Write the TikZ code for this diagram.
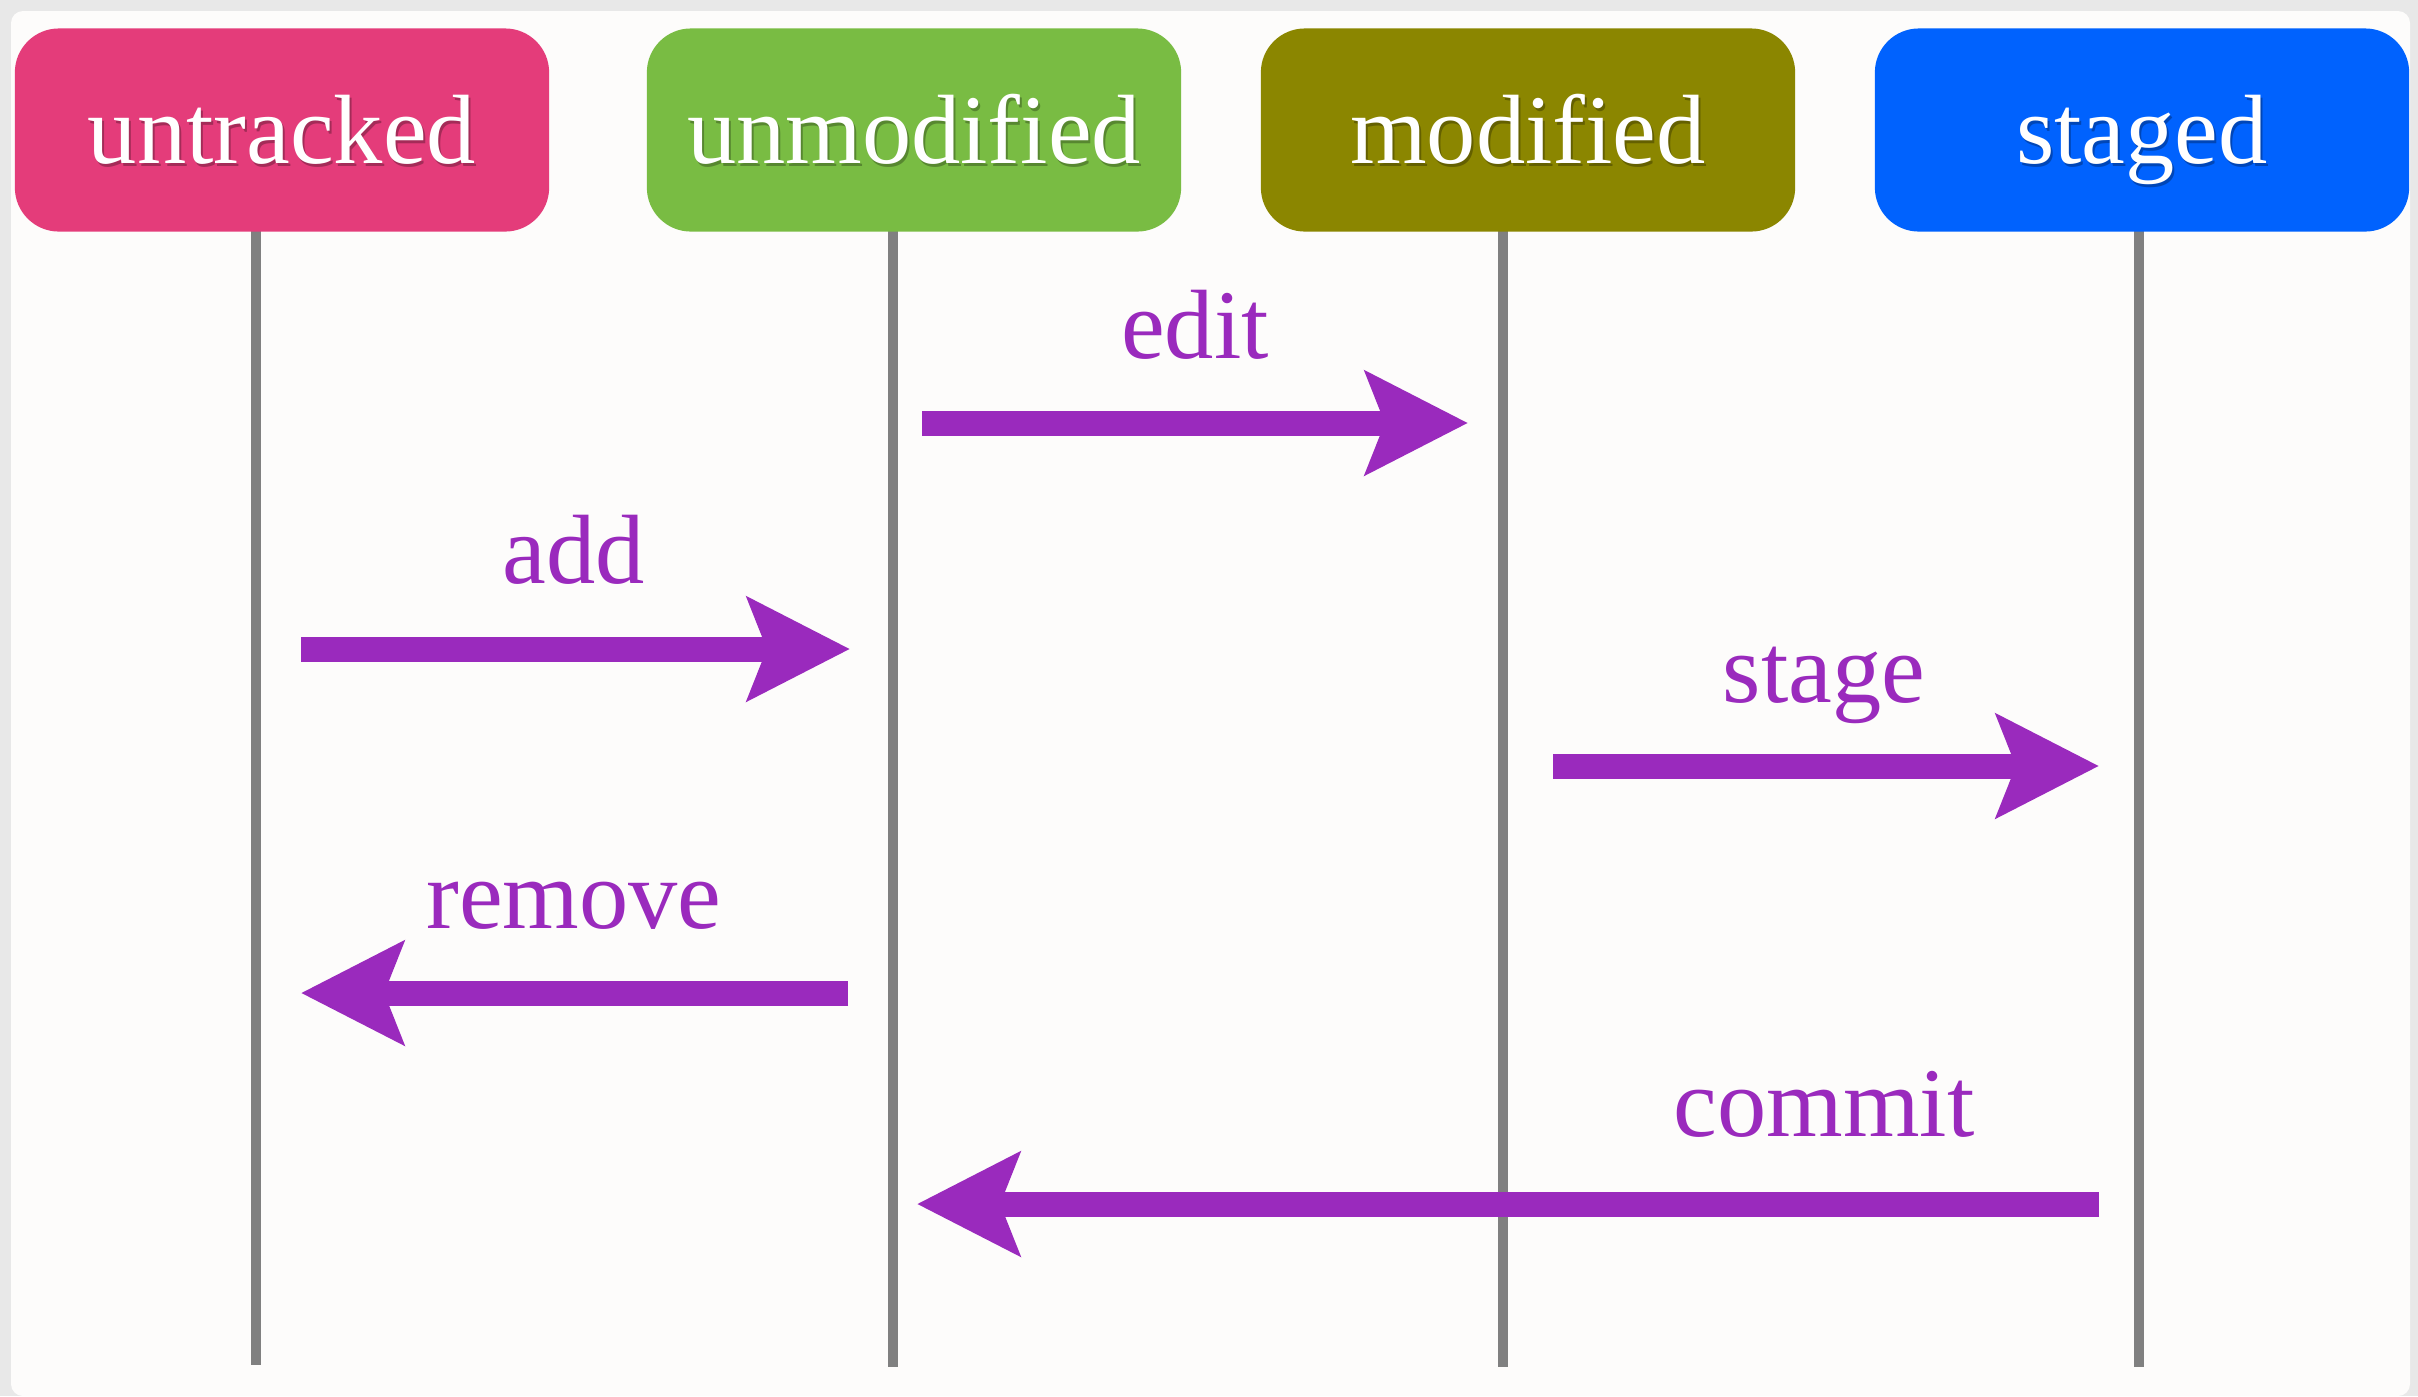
\documentclass[tikz,border=0pt]{standalone}
\usepackage{fontspec}
\setmainfont{Liberation Serif}
\usetikzlibrary{arrows.meta}
\definecolor{cUntr}{HTML}{E43C7A}
\definecolor{cUnmod}{HTML}{79BC43}
\definecolor{cMod}{HTML}{8B8600}
\definecolor{cStaged}{HTML}{0062FE}
\definecolor{cPurp}{HTML}{9A2ABD}
\definecolor{cLine}{HTML}{808080}
\definecolor{cPanel}{HTML}{FDFCFB}
\definecolor{cOuter}{HTML}{E8E8E8}
\tikzset{
  statebox/.style={rounded corners=0.44cm, minimum width=5.34cm, minimum height=2.03cm, inner sep=0pt},
  lbl/.style={font=\fontsize{28pt}{32pt}\selectfont, inner sep=0pt, anchor=base},
  boxtxt/.style={lbl, text=white},
  shadowtxt/.style={lbl, text=black, opacity=0.28},
  lifeline/.style={draw=cLine, line width=0.1cm},
  act/.style={draw=cPurp, line width=0.25cm, -{Stealth[length=1.02cm, width=1.02cm, inset=0.19cm]}},
  actlbl/.style={lbl, text=cPurp},
}
\begin{document}
\begin{tikzpicture}[x=0.01cm,y=-0.01cm]
\useasboundingbox (0,0) rectangle (2418,1396);
\fill[cOuter] (0,0) rectangle (2418,1396);
\fill[cPanel, rounded corners=0.12cm] (11,11) rectangle (2410,1396);

% lifeline coordinates
\coordinate (l1t) at (256,200);  \coordinate (l1b) at (256,1365);
\coordinate (l2t) at (893,200);  \coordinate (l2b) at (893,1367);
\coordinate (l3t) at (1503,200); \coordinate (l3b) at (1503,1367);
\coordinate (l4t) at (2139,200); \coordinate (l4b) at (2139,1367);
\draw[lifeline] (l1t) -- (l1b);
\draw[lifeline] (l2t) -- (l2b);
\draw[lifeline] (l3t) -- (l3b);
\draw[lifeline] (l4t) -- (l4b);

% state boxes
\node[statebox, fill=cUntr]   (untr)  at (282,130)  {};
\node[statebox, fill=cUnmod]  (unmod) at (914,130)  {};
\node[statebox, fill=cMod]    (mod)   at (1528,130) {};
\node[statebox, fill=cStaged] (stg)   at (2142,130) {};

\node[shadowtxt] (untrS)  at (284,166)  {untracked};
\node[boxtxt]    (untrT)  at (282,163)  {untracked};
\node[shadowtxt] (unmodS) at (916,166)  {unmodified};
\node[boxtxt]    (unmodT) at (914,163)  {unmodified};
\node[shadowtxt] (modS)   at (1530,166) {modified};
\node[boxtxt]    (modT)   at (1528,163) {modified};
\node[shadowtxt] (stgS)   at (2144,166) {staged};
\node[boxtxt]    (stgT)   at (2142,163) {staged};

% actions
\coordinate (editA) at (922,423);  \coordinate (editB) at (1468,423);
\coordinate (addA) at (301,649);   \coordinate (addB) at (850,649);
\coordinate (stageA) at (1553,766); \coordinate (stageB) at (2099,766);
\coordinate (remA) at (848,993);   \coordinate (remB) at (301,993);
\coordinate (comA) at (2099,1204); \coordinate (comB) at (917,1204);

\draw[act] (editA) -- (editB);
\draw[act] (addA) -- (addB);
\draw[act] (stageA) -- (stageB);
\draw[act] (remA) -- (remB);
\draw[act] (comA) -- (comB);

\node[actlbl] (editL)  at (1195,358) {edit};
\node[actlbl] (addL)   at (574,583)  {add};
\node[actlbl] (stageL) at (1824,702) {stage};
\node[actlbl] (remL)   at (574,928)  {remove};
\node[actlbl] (comL)   at (1824,1136) {commit};
\end{tikzpicture}
\end{document}
